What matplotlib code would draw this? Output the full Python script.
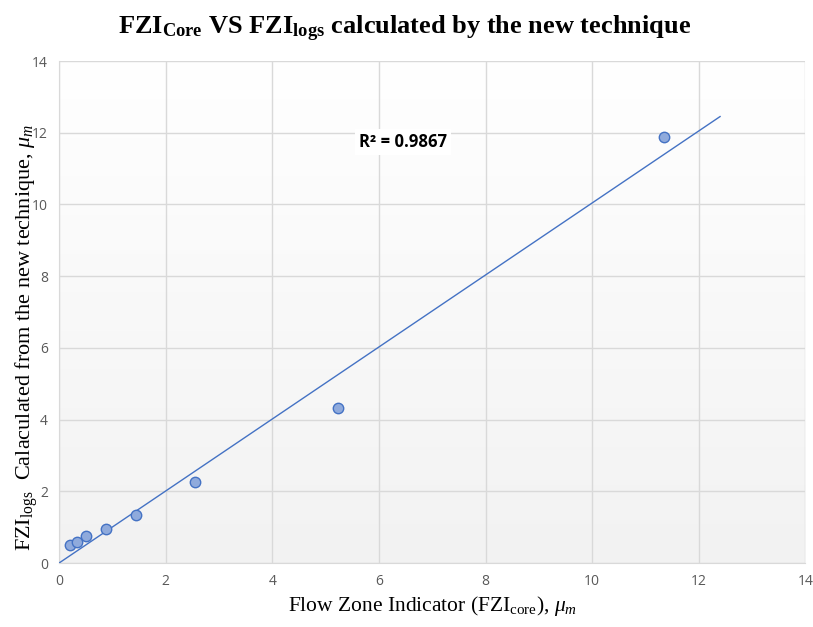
import numpy as np
import matplotlib
matplotlib.use("Agg")
import matplotlib.pyplot as plt
from matplotlib.colors import LinearSegmentedColormap

plt.rcParams['mathtext.fontset'] = 'custom'
plt.rcParams['mathtext.rm'] = 'Liberation Serif'
plt.rcParams['mathtext.bf'] = 'Liberation Serif:bold'
plt.rcParams['mathtext.it'] = 'Liberation Serif:italic'

fzi_core = [0.20, 0.33, 0.51, 0.89, 1.45, 2.55, 5.23, 11.35]
fzi_logs = [0.50, 0.59, 0.75, 0.95, 1.34, 2.26, 4.32, 11.88]
ticks = [0, 2, 4, 6, 8, 10, 12, 14]
r2_text = "R² = 0.9867"

x = np.array(fzi_core)
y = np.array(fzi_logs)
slope = np.sum(x * y) / np.sum(x * x)

fig = plt.figure(figsize=(8.13, 6.27), dpi=100)
ax = fig.add_axes([0.0726, 0.102, 0.918, 0.8007])
ax.set_xlim(0, 14)
ax.set_ylim(0, 14)

# gradient background
grad = np.linspace(0, 1, 256).reshape(-1, 1)
cmap = LinearSegmentedColormap.from_list("g", ["#f2f2f2", "#ffffff"])
ax.imshow(grad, extent=[0, 14, 0, 14], origin="lower", cmap=cmap, aspect="auto", zorder=0)

ax.set_xticks(ticks)
ax.set_yticks(ticks)
ax.grid(True, color="#d9d9d9", linewidth=1.0, zorder=1)
ax.set_axisbelow(True)
for s in ["top", "right"]:
    ax.spines[s].set_visible(False)
ax.spines["left"].set_color("#d9d9d9")
ax.spines["bottom"].set_color("#d9d9d9")
ax.tick_params(axis="both", length=0, colors="#595959", labelsize=10, pad=8)
for lab in ax.get_xticklabels() + ax.get_yticklabels():
    lab.set_family("Open Sans")

xl = np.array([0, 12.4])
ax.plot(xl, slope * xl, color="#4472c4", linewidth=1.0, zorder=3)
ax.plot(x, y, linestyle="none", marker="o", markersize=7.5,
        markerfacecolor="#8faadc", markeredgecolor="#4472c4", markeredgewidth=1.0, zorder=4)

ax.text(6.45, 11.74, r2_text, ha="center", va="center", fontsize=12, fontweight="bold",
        family="Open Sans", color="#000000",
        bbox=dict(facecolor="white", edgecolor="none", pad=3), zorder=5)

fig.suptitle(r"FZI$_{\mathbf{Core}}$ VS FZI$_{\mathbf{logs}}$ calculated by the new technique",
             x=0.497, y=0.978, fontsize=19, fontweight="bold", family="Liberation Serif")

ax.set_xlabel(r"Flow Zone Indicator (FZI$_{\mathrm{core}}$), $\mathit{\mu_m}$",
              fontsize=15.5, family="Liberation Serif")
ax.xaxis.set_label_coords(0.5, -0.062)
ax.set_ylabel(r"FZI$_{\mathrm{logs}}$  Calaculated from the new technique, $\mathit{\mu_m}$",
              fontsize=16, family="Liberation Serif")
ax.yaxis.set_label_coords(-0.026, 0.449)

fig.savefig("out.png", dpi=100, facecolor="white")
